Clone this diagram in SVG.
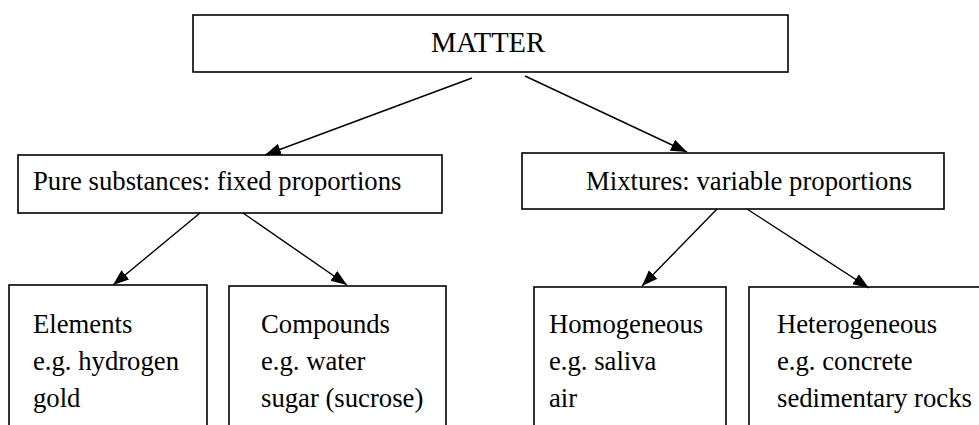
<svg xmlns="http://www.w3.org/2000/svg" width="979" height="425" viewBox="0 0 979 425">
  <style>
    .box { fill: #ffffff; stroke: #000000; stroke-width: 1.6; }
    .lbl { font-family: "Liberation Serif", "Times New Roman", serif; font-size: 26.7px; fill: #000000; }
    .edge { stroke: #000000; stroke-width: 1.4; fill: none; marker-end: url(#arrow); }
  </style>
  <defs>
    <marker id="arrow" markerUnits="userSpaceOnUse" markerWidth="17" markerHeight="14" refX="16" refY="7" orient="auto">
      <path d="M0,1 L16,7 L0,13 Z" fill="#000000"/>
    </marker>
  </defs>
  <rect width="979" height="425" fill="#ffffff"/>

  <g id="matter">
    <rect class="box" x="193" y="15" width="595" height="57"/>
    <text class="lbl" x="431" y="52" style="font-size:28.5px">MATTER</text>
  </g>

  <g id="pure">
    <rect class="box" x="18" y="155" width="424" height="58"/>
    <text class="lbl" x="33" y="190">Pure substances: fixed proportions</text>
  </g>

  <g id="mixtures">
    <rect class="box" x="522" y="153" width="422" height="56"/>
    <text class="lbl" x="586" y="190">Mixtures: variable proportions</text>
  </g>

  <g id="elements">
    <rect class="box" x="9" y="285" width="198" height="150"/>
    <text class="lbl" x="33" y="333">Elements</text>
    <text class="lbl" x="33" y="370">e.g. hydrogen</text>
    <text class="lbl" x="33" y="407">gold</text>
  </g>

  <g id="compounds">
    <rect class="box" x="229" y="286" width="217" height="150"/>
    <text class="lbl" x="261" y="333">Compounds</text>
    <text class="lbl" x="261" y="370">e.g. water</text>
    <text class="lbl" x="261" y="407">sugar (sucrose)</text>
  </g>

  <g id="homogeneous">
    <rect class="box" x="534" y="287" width="192" height="150"/>
    <text class="lbl" x="549" y="333">Homogeneous</text>
    <text class="lbl" x="549" y="370">e.g. saliva</text>
    <text class="lbl" x="549" y="407">air</text>
  </g>

  <g id="heterogeneous">
    <rect class="box" x="749" y="287" width="240" height="150"/>
    <text class="lbl" x="777" y="333">Heterogeneous</text>
    <text class="lbl" x="777" y="370">e.g. concrete</text>
    <text class="lbl" x="777" y="407">sedimentary rocks</text>
  </g>

  <g id="connectors">
    <line class="edge" x1="472" y1="78" x2="265" y2="155"/>
    <line class="edge" x1="525" y1="76" x2="687" y2="152"/>
    <line class="edge" x1="200" y1="213" x2="113" y2="285"/>
    <line class="edge" x1="243" y1="213" x2="347" y2="285"/>
    <line class="edge" x1="717" y1="209" x2="642" y2="286"/>
    <line class="edge" x1="747" y1="209" x2="869" y2="288"/>
  </g>
</svg>
